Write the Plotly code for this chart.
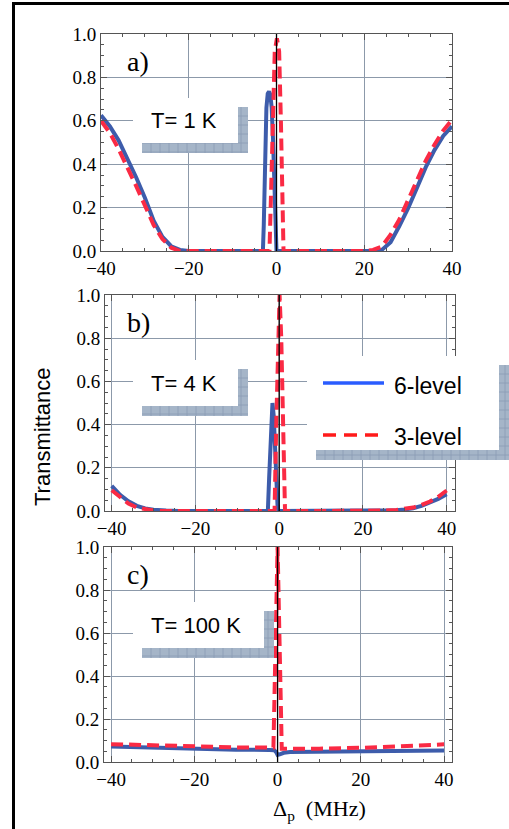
import plotly.graph_objects as go

W, H = 509, 829

# ---------------- data ----------------
# Panel a) T = 1 K
a_x6 = [-40, -38, -36, -34, -32, -30, -28, -26, -24, -22, -20, -10,
        -3.1, -2.9, -2.6, -2.3, -2.0, -1.7, -1.4, -1.1, -0.8, -0.5, -0.25, 0,
        10, 22, 24, 26, 28, 30, 32, 34, 36, 38, 40]
a_y6 = [0.625, 0.575, 0.51, 0.43, 0.34, 0.245, 0.14, 0.065, 0.022, 0.005, 0, 0,
        0, 0.12, 0.45, 0.66, 0.725, 0.735, 0.72, 0.66, 0.52, 0.35, 0.15, 0,
        0, 0, 0.005, 0.04, 0.115, 0.197, 0.29, 0.385, 0.465, 0.53, 0.575]
a_x3 = [-40, -38, -36, -34, -32, -30, -28, -26, -24, -22, -10,
        -1.6, -1.2, -0.8, -0.4, 0.1, 0.6, 1.0, 1.3, 1.6,
        10, 20, 22, 24, 26, 28, 30, 32, 34, 36, 38, 40]
a_y3 = [0.60, 0.545, 0.47, 0.39, 0.30, 0.21, 0.12, 0.055, 0.015, 0, 0,
        0, 0.3, 0.62, 0.92, 0.98, 0.92, 0.6, 0.3, 0,
        0, 0, 0.005, 0.02, 0.075, 0.145, 0.235, 0.33, 0.415, 0.49, 0.555, 0.605]

# Panel b) T = 4 K
b_x6 = [-40, -38, -36, -34, -32, -30, -27, -24, -10,
        -2.7, -2.4, -2.1, -1.8, -1.6, -1.3, -1.0, -0.7, -0.4, -0.2,
        10, 26, 28, 30, 32, 34, 36, 38, 40]
b_y6 = [0.116, 0.075, 0.045, 0.024, 0.012, 0.006, 0.002, 0, 0,
        0, 0.15, 0.33, 0.47, 0.50, 0.44, 0.28, 0.12, 0.03, 0,
        0, 0, 0.003, 0.007, 0.013, 0.024, 0.038, 0.056, 0.078]
b_x3 = [-40, -38, -36, -34, -32, -30, -28, -10,
        -1.1, -0.7, -0.3, 0.1, 0.5, 0.9, 1.4,
        10, 22, 25, 28, 30, 32, 34, 36, 38, 40]
b_y3 = [0.096, 0.062, 0.034, 0.016, 0.007, 0.002, 0, 0,
        0, 0.4, 0.8, 1.0, 0.8, 0.4, 0,
        0, 0, 0.002, 0.005, 0.009, 0.016, 0.028, 0.044, 0.066, 0.095]

# Panel c) T = 100 K
c_x6 = [-40, -30, -20, -10, -2, -0.8, -0.3, 0, 0.5, 1.5, 3, 10, 20, 30, 40]
c_y6 = [0.072, 0.066, 0.06, 0.057, 0.056, 0.055, 0.045, 0.033, 0.036, 0.043,
        0.046, 0.047, 0.048, 0.05, 0.053]
c_x3 = [-40, -30, -20, -10, -1.0, 0, 1.0, 5, 10, 20, 30, 40]
c_y3 = [0.083, 0.077, 0.071, 0.068, 0.067, 1.0, 0.062, 0.06, 0.062, 0.066,
        0.072, 0.082]

panel_labels = ["a)", "b)", "c)"]
temp_labels = ["T= 1 K", "T= 4 K", "T= 100 K"]
series_names = ["6-level", "3-level"]
x_ticks = [-40, -20, 0, 20, 40]
y_ticks = [0.0, 0.2, 0.4, 0.6, 0.8, 1.0]

# ---------------- styles ----------------
BLUE = "#3d5cab"
RED = "#fa2a44"
LEG_BLUE = "#2a5cff"
LEG_RED = "#ff1a1a"
SHADOW = "#a5b5c8"
SHADOW_LINE = "#8a9db4"
GRID = "#8c99aa"
FRAME = "#555555"
SERIF = "Liberation Serif, Times New Roman, serif"
SANS = "Liberation Sans, Arial, sans-serif"


def X(px):
    return px / W


def Y(py):
    return 1 - py / H


# panel boxes in pixels (left, top, right, bottom) and x ranges
boxes = [(101, 34, 452, 251), (105, 295, 455, 511), (104, 547, 452, 762)]
xranges = [[-40, 40], [-41.6, 42.0], [-41.7, 41.9]]
data = [(a_x6, a_y6, a_x3, a_y3), (b_x6, b_y6, b_x3, b_y3), (c_x6, c_y6, c_x3, c_y3)]

fig = go.Figure()
layout = dict(
    width=W, height=H,
    margin=dict(l=0, r=0, t=0, b=0, autoexpand=False),
    paper_bgcolor="white", plot_bgcolor="white",
    showlegend=False,
)

shapes = []
annotations = []


def shadow(l, t, r, b):
    """hatched drop shadow drawn as a filled rect with a fine grid."""
    shapes.append(dict(type="rect", xref="paper", yref="paper",
                       x0=X(l), x1=X(r), y0=Y(b), y1=Y(t),
                       fillcolor=SHADOW, line=dict(width=0), layer="above"))
    step = 9
    xx = l + step
    while xx < r:
        shapes.append(dict(type="line", xref="paper", yref="paper",
                           x0=X(xx), x1=X(xx), y0=Y(b), y1=Y(t),
                           line=dict(color=SHADOW_LINE, width=0.8), layer="above"))
        xx += step
    yy = t + step
    while yy < b:
        shapes.append(dict(type="line", xref="paper", yref="paper",
                           x0=X(l), x1=X(r), y0=Y(yy), y1=Y(yy),
                           line=dict(color=SHADOW_LINE, width=0.8), layer="above"))
        yy += step


for i, (box, xr, d) in enumerate(zip(boxes, xranges, data)):
    n = "" if i == 0 else str(i + 1)
    xa, ya = "x" + n, "y" + n
    l, t, r, b = box
    axis_common = dict(
        showline=True, linecolor=FRAME, linewidth=1, mirror="allticks",
        ticks="inside", ticklen=6, tickcolor=FRAME, tickwidth=1,
        showgrid=True, gridcolor=GRID, gridwidth=1, zeroline=False,
        automargin=False,
        tickfont=dict(family=SERIF, size=19, color="black"),
        minor=dict(ticks="inside", ticklen=3, tickcolor=FRAME, showgrid=False),
    )
    layout["xaxis" + n] = dict(
        axis_common, domain=[X(l), X(r)], anchor=ya, range=xr,
        tickvals=x_ticks, minor=dict(axis_common["minor"], dtick=5, tick0=0),
    )
    layout["yaxis" + n] = dict(
        axis_common, domain=[Y(b), Y(t)], anchor=xa, range=[0, 1],
        tickvals=y_ticks, tickformat=".1f",
        minor=dict(axis_common["minor"], dtick=0.05, tick0=0),
    )
    x6, y6, x3, y3 = d
    fig.add_trace(go.Scatter(x=x6, y=y6, mode="lines", name=series_names[0],
                             xaxis=xa, yaxis=ya,
                             line=dict(color=BLUE, width=4)))
    fig.add_trace(go.Scatter(x=x3, y=y3, mode="lines", name=series_names[1],
                             xaxis=xa, yaxis=ya,
                             line=dict(color=RED, width=4, dash="12px,6px")))
    # vertical axis line at x = 0
    shapes.append(dict(type="line", xref=xa, yref=ya + " domain", x0=0, x1=0,
                       y0=0, y1=1, line=dict(color="black", width=1.3),
                       layer="above"))
    # panel letter
    annotations.append(dict(text=panel_labels[i], xref="paper", yref="paper",
                            x=X(125), y=Y(t + 27), xanchor="left", yanchor="middle",
                            showarrow=False,
                            font=dict(family=SERIF, size=28, color="black")))

# temperature label boxes with L-shaped shadow
tboxes = [(133, 98, 238, 143), (133, 360, 238, 406), (133, 602, 264, 648)]
for i, (l, t, r, b) in enumerate(tboxes):
    shadow(l + 9, t + 9, r + 10, b + 10)
    shapes.append(dict(type="rect", xref="paper", yref="paper",
                       x0=X(l), x1=X(r), y0=Y(b), y1=Y(t),
                       fillcolor="white", line=dict(width=0), layer="above"))
    annotations.append(dict(text=temp_labels[i], xref="paper", yref="paper",
                            x=X(149), y=Y(t + 23), xanchor="left", yanchor="middle",
                            showarrow=False,
                            font=dict(family=SANS, size=22, color="black")))

# legend box with shadow
shadow(316, 365, 509, 460)
shapes.append(dict(type="rect", xref="paper", yref="paper",
                   x0=X(307), x1=X(499), y0=Y(450), y1=Y(356),
                   fillcolor="white", line=dict(width=0), layer="above"))
shapes.append(dict(type="line", xref="paper", yref="paper",
                   x0=X(323), x1=X(384), y0=Y(383), y1=Y(383),
                   line=dict(color=LEG_BLUE, width=3.5), layer="above"))
shapes.append(dict(type="line", xref="paper", yref="paper",
                   x0=X(323), x1=X(379), y0=Y(435), y1=Y(435),
                   line=dict(color=LEG_RED, width=3.5, dash="13px,8px"), layer="above"))
annotations.append(dict(text=series_names[0], xref="paper", yref="paper",
                        x=X(392), y=Y(386), xanchor="left", yanchor="middle",
                        showarrow=False, font=dict(family=SANS, size=23, color="black")))
annotations.append(dict(text=series_names[1], xref="paper", yref="paper",
                        x=X(392), y=Y(437), xanchor="left", yanchor="middle",
                        showarrow=False, font=dict(family=SANS, size=23, color="black")))

# axis titles
annotations.append(dict(text="Transmittance", xref="paper", yref="paper",
                        x=X(42), y=Y(437), textangle=-90, showarrow=False,
                        xanchor="center", yanchor="middle",
                        font=dict(family=SANS, size=22, color="black")))
annotations.append(dict(text="Δ<sub>p</sub>  (MHz)", xref="paper", yref="paper",
                        x=X(319), y=Y(810), showarrow=False,
                        xanchor="center", yanchor="middle",
                        font=dict(family=SERIF, size=22, color="black")))

# outer frame (left and top edges only)
shapes.append(dict(type="line", xref="paper", yref="paper",
                   x0=X(13.5), x1=X(13.5), y0=Y(3), y1=Y(829),
                   line=dict(color="black", width=3), layer="above"))
shapes.append(dict(type="line", xref="paper", yref="paper",
                   x0=X(12), x1=X(509), y0=Y(3.5), y1=Y(3.5),
                   line=dict(color="black", width=3), layer="above"))

layout["shapes"] = shapes
layout["annotations"] = annotations
fig.update_layout(**layout)
fig.write_html(
    "out.html",
    config={"displayModeBar": False},
    post_script=(
        "document.documentElement.style.overflow='hidden';"
        "document.body.style.margin='0';"
        "document.body.style.overflow='hidden';"
    ),
)
